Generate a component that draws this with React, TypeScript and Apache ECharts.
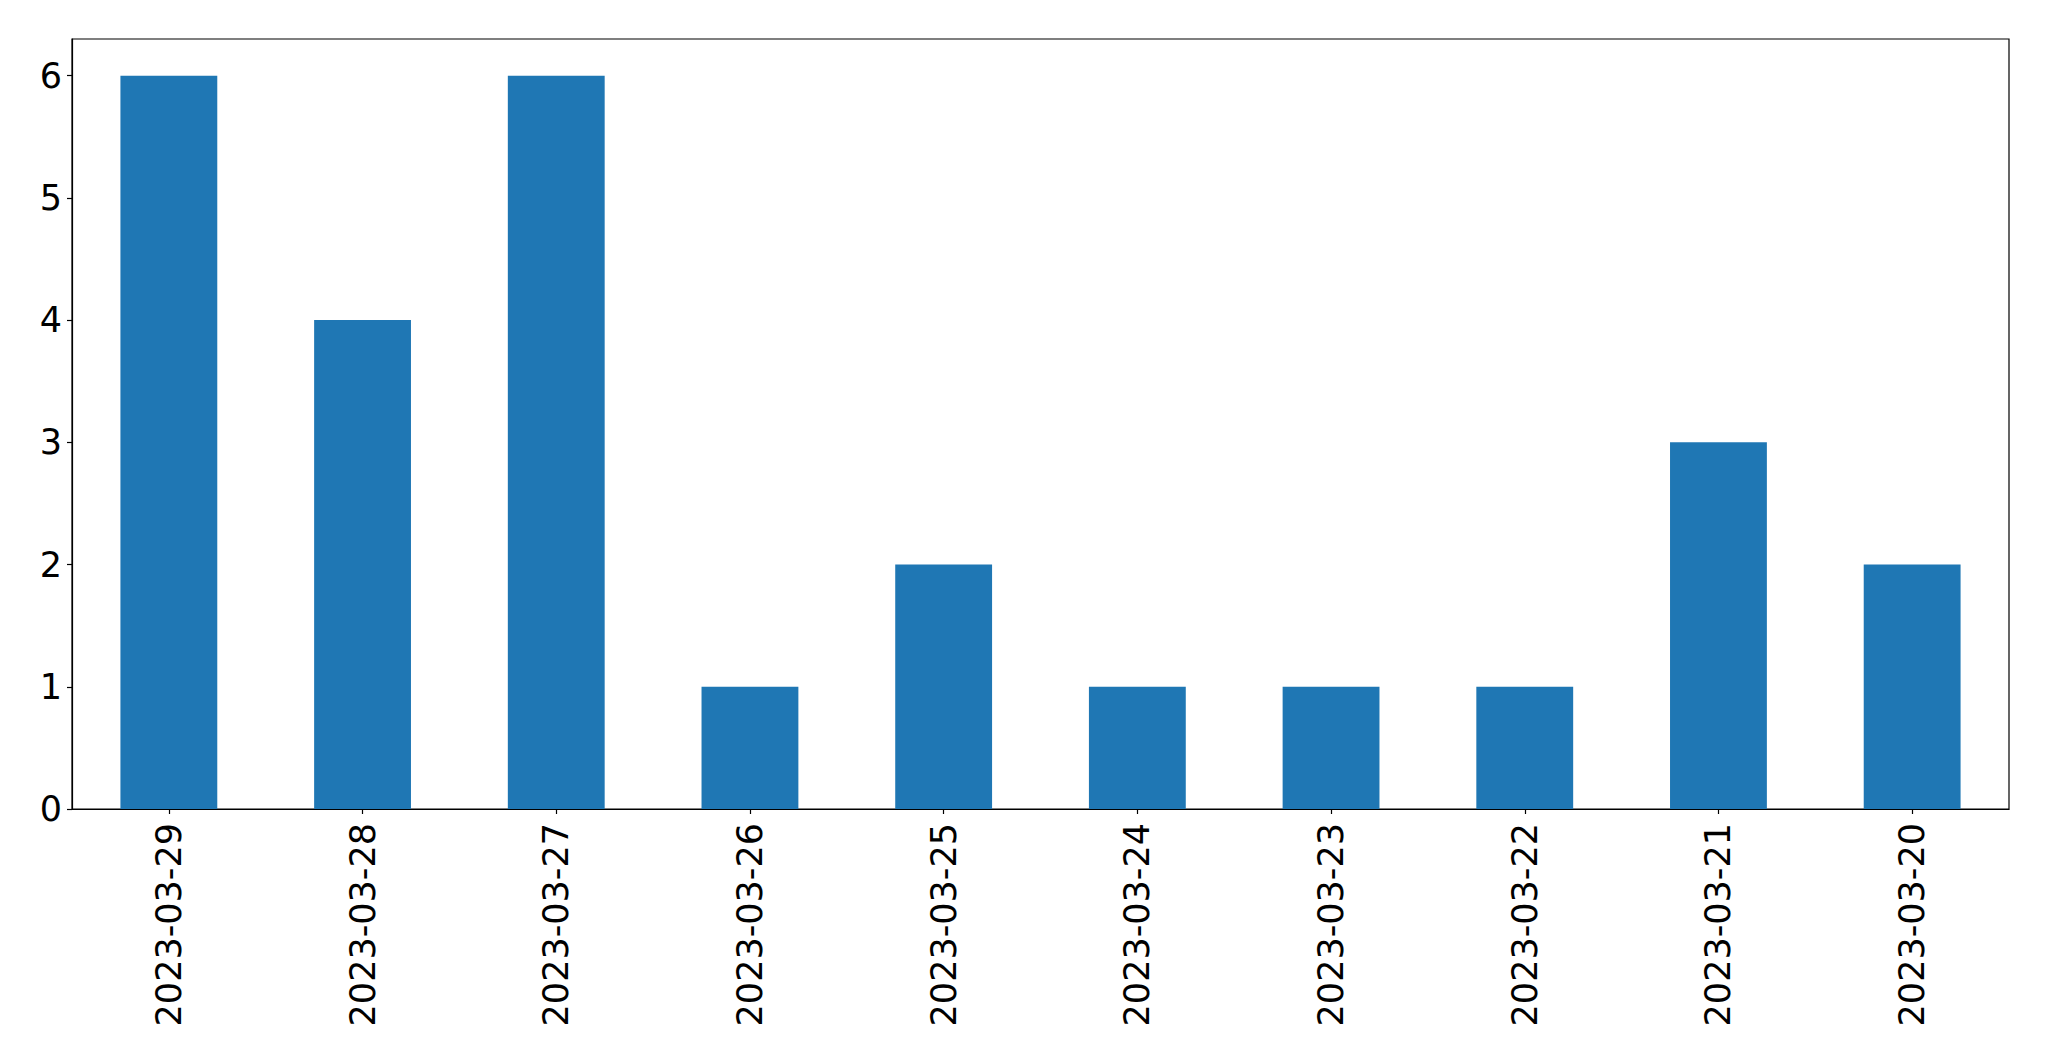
import React, { useEffect, useRef } from "react";
import * as echarts from "echarts";

const categories = [
  "2023-03-29",
  "2023-03-28",
  "2023-03-27",
  "2023-03-26",
  "2023-03-25",
  "2023-03-24",
  "2023-03-23",
  "2023-03-22",
  "2023-03-21",
  "2023-03-20",
];
const counts = [6, 4, 6, 1, 2, 1, 1, 1, 3, 2];
const yTicks = [0, 1, 2, 3, 4, 5, 6];

export default function App() {
  const ref = useRef<HTMLDivElement>(null);
  useEffect(() => {
    if (!ref.current) return;
    const chart = echarts.init(ref.current, undefined, { renderer: "svg" });
    const font = "DejaVu Sans";
    chart.setOption({
      animation: false,
      backgroundColor: "#ffffff",
      grid: {
        left: 72,
        top: 39,
        width: 1937,
        height: 770,
        show: true,
        borderColor: "#000000",
        borderWidth: 1.2,
        backgroundColor: "transparent",
      },
      xAxis: {
        type: "category",
        data: categories,
        boundaryGap: true,
        axisLine: { show: true, lineStyle: { color: "#000000", width: 1.2 } },
        axisTick: { show: true, alignWithLabel: true, length: 5, lineStyle: { color: "#000000", width: 1.2 } },
        axisLabel: {
          rotate: 90,
          margin: 14,
          fontSize: 35,
          fontFamily: font,
          color: "#000000",
          interval: 0,
        },
        splitLine: { show: false },
      },
      yAxis: {
        type: "value",
        min: 0,
        max: 6.3,
        interval: 1,
        axisLine: { show: true, lineStyle: { color: "#000000", width: 1.2 } },
        axisTick: { show: true, length: 5, customValues: yTicks, lineStyle: { color: "#000000", width: 1.2 } },
        axisLabel: {
          customValues: yTicks,
          margin: 10,
          fontSize: 35,
          fontFamily: font,
          color: "#000000",
        },
        splitLine: { show: false },
      },
      series: [
        {
          type: "bar",
          data: counts,
          barWidth: "50%",
          itemStyle: { color: "#1f77b4" },
        },
      ],
    });
    return () => chart.dispose();
  }, []);
  return (
    <div
      ref={ref}
      style={{ position: "fixed", left: 0, top: 0, width: 2049, height: 1061, background: "#fff" }}
    />
  );
}
